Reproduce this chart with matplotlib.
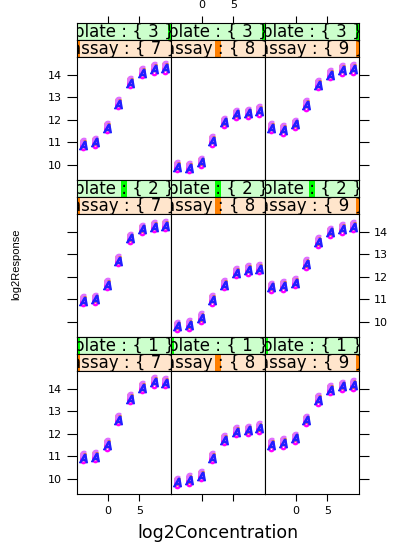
import matplotlib
matplotlib.use("Agg")
import matplotlib.pyplot as plt
import matplotlib.transforms as mtransforms

# log2 concentrations of the dilution series
conc = [-3.85, -2.0, -0.15, 1.7, 3.55, 5.4, 7.25, 9.1]

plates = [3, 2, 1]      # top row to bottom row
assays = [7, 8, 9]      # left column to right column

# log2 response per plate / assay
resp_p3_a7 = [10.9, 11.0, 11.65, 12.72, 13.65, 14.08, 14.25, 14.3]
resp_p3_a8 = [9.93, 9.88, 10.12, 11.06, 11.89, 12.24, 12.29, 12.39]
resp_p3_a9 = [11.65, 11.55, 11.8, 12.65, 13.55, 14.0, 14.2, 14.25]
resp_p2_a7 = [10.95, 11.0, 11.65, 12.72, 13.7, 14.1, 14.22, 14.27]
resp_p2_a8 = [9.81, 9.86, 10.17, 10.97, 11.65, 12.18, 12.3, 12.36]
resp_p2_a9 = [11.53, 11.59, 11.75, 12.56, 13.53, 13.97, 14.12, 14.22]
resp_p1_a7 = [10.95, 10.99, 11.5, 12.63, 13.56, 14.04, 14.29, 14.26]
resp_p1_a8 = [9.85, 9.95, 10.15, 10.95, 11.75, 12.1, 12.15, 12.25]
resp_p1_a9 = [11.5, 11.6, 11.8, 12.6, 13.5, 13.95, 14.1, 14.15]

response = {
    (3, 7): resp_p3_a7, (3, 8): resp_p3_a8, (3, 9): resp_p3_a9,
    (2, 7): resp_p2_a7, (2, 8): resp_p2_a8, (2, 9): resp_p2_a9,
    (1, 7): resp_p1_a7, (1, 8): resp_p1_a8, (1, 9): resp_p1_a9,
}

xticks = [0, 5]
yticks = [10, 11, 12, 13, 14]

# replicate wells: glyph, colour, small vertical nudge in points
wells = [("$8$", "#FF8C00", 1.2), ("$0$", "#FF00FF", -1.2),
         ("$6$", "#E070FF", 2.0), ("$A$", "#2020FF", 0.0)]

W, H = 395, 542
fig = plt.figure(figsize=(W / 100, H / 100), dpi=100)
plt.rcParams["font.family"] = "DejaVu Sans"


def px_axes(x0, y0, w, h):
    return fig.add_axes([x0 / W, 1 - (y0 + h) / H, w / W, h / H])


col_x = [77, 171, 265]
col_w = 94
row_y = [23, 180, 337]      # top of the plate strip in each row
strip_h = 17
panel_h = 123


def draw_strip(ax, text, level, bg, fg):
    ax.set_xlim(0, 1)
    ax.set_ylim(0, 1)
    ax.set_facecolor(bg)
    pos = (level - 1) / 2
    ax.axvspan(pos - 0.028, pos + 0.028, color=fg, lw=0, zorder=1)
    ax.text(0.5, 0.2, text, ha="center", va="baseline", fontsize=12,
            clip_on=True, zorder=2)
    ax.set_xticks([])
    ax.set_yticks([])
    for s in ax.spines.values():
        s.set_linewidth(0.8)


for r, plate in enumerate(plates):
    for c, assay in enumerate(assays):
        x0 = col_x[c]
        y0 = row_y[r]
        s1 = px_axes(x0, y0, col_w, strip_h)
        draw_strip(s1, "plate : { %d }" % plate, plate, "#CCFFCC", "#00FF00")
        s2 = px_axes(x0, y0 + strip_h, col_w, strip_h)
        draw_strip(s2, "assay : { %d }" % assay, assay - 6, "#FFE5CC", "#FF7F00")

        ax = px_axes(x0, y0 + 2 * strip_h, col_w, panel_h)
        ys = response[(plate, assay)]
        for glyph, colour, dy in wells:
            tr = mtransforms.offset_copy(ax.transData, fig=fig, x=0, y=dy,
                                         units="points")
            ax.plot(conc, ys, ls="none", marker=glyph, ms=6, color=colour,
                    transform=tr)
        ax.set_xlim(-4.85, 10.0)
        ax.set_ylim(9.34, 14.78)
        ax.set_xticks(xticks)
        ax.set_yticks(yticks)
        for s in ax.spines.values():
            s.set_linewidth(0.8)

        ax.tick_params(axis="x", direction="out", length=5, width=0.8,
                       labelsize=8, pad=4, top=False, bottom=(r == 2),
                       labelbottom=(r == 2 and c != 1))
        ax.tick_params(axis="y", direction="out", length=7, width=0.8,
                       labelsize=8, pad=4,
                       left=(c == 0), right=(c == 2),
                       labelleft=(c == 0 and r != 1),
                       labelright=(c == 2 and r == 1))

        # top axis sits above the strips on the first row
        if r == 0:
            sec = ax.secondary_xaxis(1 + 2 * strip_h / panel_h)
            sec.set_xticks(xticks)
            sec.spines["top"].set_visible(False)
            sec.tick_params(axis="x", direction="out", length=5, width=0.8,
                            labelsize=8, pad=4, labeltop=(c == 1))

fig.text(218 / W, 1 - 538 / H, "log2Concentration", ha="center",
         va="baseline", fontsize=12.5)
fig.text(16 / W, 1 - 264 / H, "log2Response", rotation=90, ha="center",
         va="center", fontsize=8, family="Liberation Sans")

fig.savefig("out.png", dpi=100)
